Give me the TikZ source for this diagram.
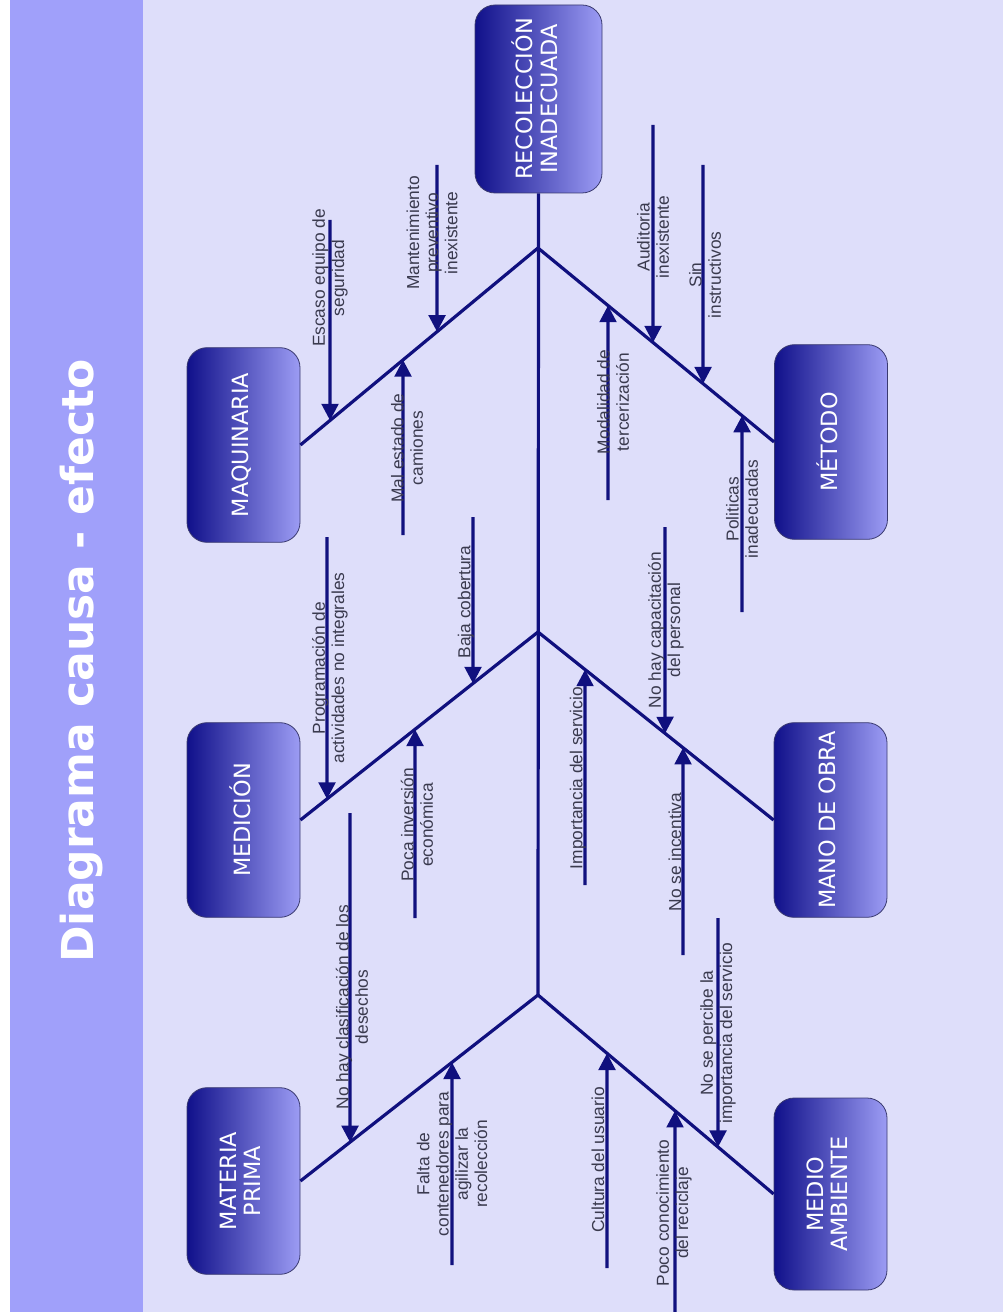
\documentclass[tikz,border=0pt]{standalone}
\usepackage{fontspec}
\setmainfont{Liberation Sans}
\newfontfamily\boxfont{DejaVu Sans}
\usepackage{graphicx}
\usetikzlibrary{arrows.meta}
\definecolor{bgcol}{HTML}{DEDEFA}
\definecolor{bandcol}{HTML}{A0A0FA}
\definecolor{navy}{HTML}{10107E}
\definecolor{boxdark}{HTML}{10108A}
\definecolor{boxlight}{HTML}{9C9CF4}
\definecolor{boxborder}{HTML}{3A3A70}
\definecolor{labelcol}{HTML}{3A3A4E}
\newcommand\rt[1]{\rotatebox{90}{\begin{tabular}{@{}c@{}}#1\end{tabular}}}
\newcommand\subarrow[5]{\coordinate (#1) at (#4,#5);
  \draw[cause] (#1) -- (intersection of #2--#3 and #4,#5--#4,0);}
\tikzset{
  box/.style={draw=boxborder, line width=0.6pt, rounded corners=15pt,
    left color=boxdark, right color=boxlight, inner sep=0pt,
    minimum width=84.75pt, minimum height=146pt, text=white,
    font=\boxfont\fontsize{16.8}{18.5}\selectfont},
  bone/.style={draw=navy, line width=2.4pt},
  cause/.style={draw=navy, line width=2.4pt, -{Triangle[width=12.5pt,length=12.5pt]}},
  lbl/.style={rotate=90, align=center, text=labelcol, inner sep=0pt,
    font=\fontsize{13}{14.4}\selectfont},
  titlestyle/.style={rotate=90, anchor=base, text=white, inner sep=0pt,
    font=\boxfont\bfseries\fontsize{33}{36}\selectfont}
}
\begin{document}
\begin{tikzpicture}[x=0.75pt,y=-0.75pt]
\useasboundingbox (0,0) rectangle (1003,1312);
\fill[white] (0,0) rectangle (1003,1312);
\fill[bgcol] (143,0) rectangle (1003,1312);
\fill[bandcol] (10,0) rectangle (143,1312);
\node[titlestyle] (title) at (93,661) {Diagrama causa - efecto};

% effect and cause boxes
\node[box, minimum width=95.25pt, minimum height=141pt] (eff) at (538.5,99) {\rt{RECOLECCIÓN\\INADECUADA}};
\node[box] (maq) at (243.5,445) {\rt{MAQUINARIA}};
\node[box] (med) at (243.5,820) {\rt{MEDICIÓN}};
\node[box, minimum height=140pt] (mat) at (243.5,1181) {\rt{MATERIA\\PRIMA}};
\node[box] (met) at (831,442) {\rt{MÉTODO}};
\node[box] (mano) at (830.5,820) {\rt{MANO DE OBRA}};
\node[box, minimum height=144pt] (amb) at (830.5,1194) {\rt{MEDIO\\AMBIENTE}};

% spine and bones
\coordinate (j1) at (538,248);
\coordinate (j2) at (538,632);
\coordinate (j3) at (538,995);
\draw[bone] (eff.south) -- (j3);
\draw[bone] (j1) -- (maq.east);
\draw[bone] (j1) -- (met.west);
\draw[bone] (j2) -- (med.east);
\draw[bone] (j2) -- (mano.west);
\draw[bone] (j3) -- (mat.east);
\draw[bone] (j3) -- (amb.west);

% sub-cause arrows
\subarrow{a}{j1}{maq.east}{330}{220}
\subarrow{b}{j1}{maq.east}{437}{165}
\subarrow{c}{j1}{maq.east}{403}{535}
\subarrow{d}{j1}{met.west}{608}{500}
\subarrow{e}{j1}{met.west}{653}{125}
\subarrow{f}{j1}{met.west}{703}{165}
\subarrow{g}{j1}{met.west}{742}{612}
\subarrow{h}{j2}{med.east}{327}{537}
\subarrow{i}{j2}{med.east}{473}{517}
\subarrow{jj}{j2}{med.east}{415}{918}
\subarrow{k}{j2}{mano.west}{585}{885}
\subarrow{l}{j2}{mano.west}{665}{527}
\subarrow{m}{j2}{mano.west}{683}{955}
\subarrow{n}{j3}{mat.east}{350}{813}
\subarrow{o}{j3}{mat.east}{452}{1265}
\subarrow{p}{j3}{amb.west}{607}{1268}
\subarrow{q}{j3}{amb.west}{675}{1316}
\subarrow{r}{j3}{amb.west}{718}{918}

% labels
\node[lbl] (la) at (330,278) {Escaso equipo de\\seguridad};
\node[lbl] (lb) at (432,233) {Mantenimiento\\preventivo\\inexistente};
\node[lbl] (lc) at (407,448) {Mal estado de\\camiones};
\node[lbl] (ld) at (613,402) {Modalidad de\\tercerización};
\node[lbl] (le) at (653,237) {Auditoria\\inexistente};
\node[lbl] (lf) at (705,275) {Sin\\instructivos};
\node[lbl] (lg) at (742,509) {Politicas\\inadecuadas};
\node[lbl] (lh) at (330,668) {Programación de\\actividades no integrales};
\node[lbl] (li) at (466,602) {Baja cobertura};
\node[lbl] (lj) at (417,825) {Poca inversión\\económica};
\node[lbl] (lk) at (578,778) {Importancia del servicio};
\node[lbl] (ll) at (666,630) {No hay capacitación\\del personal};
\node[lbl] (lm) at (675,852) {No se incentiva};
\node[lbl] (ln) at (352,1007) {No hay clasificación de los\\desechos};
\node[lbl] (lo) at (452,1164) {Falta de\\contenedores para\\agilizar la\\recolección};
\node[lbl] (lp) at (598,1160) {Cultura del usuario};
\node[lbl] (lq) at (674,1213) {Poco conocimiento\\del reciclaje};
\node[lbl] (lr) at (718,1033) {No se percibe la\\importancia del servicio};
\end{tikzpicture}
\end{document}
